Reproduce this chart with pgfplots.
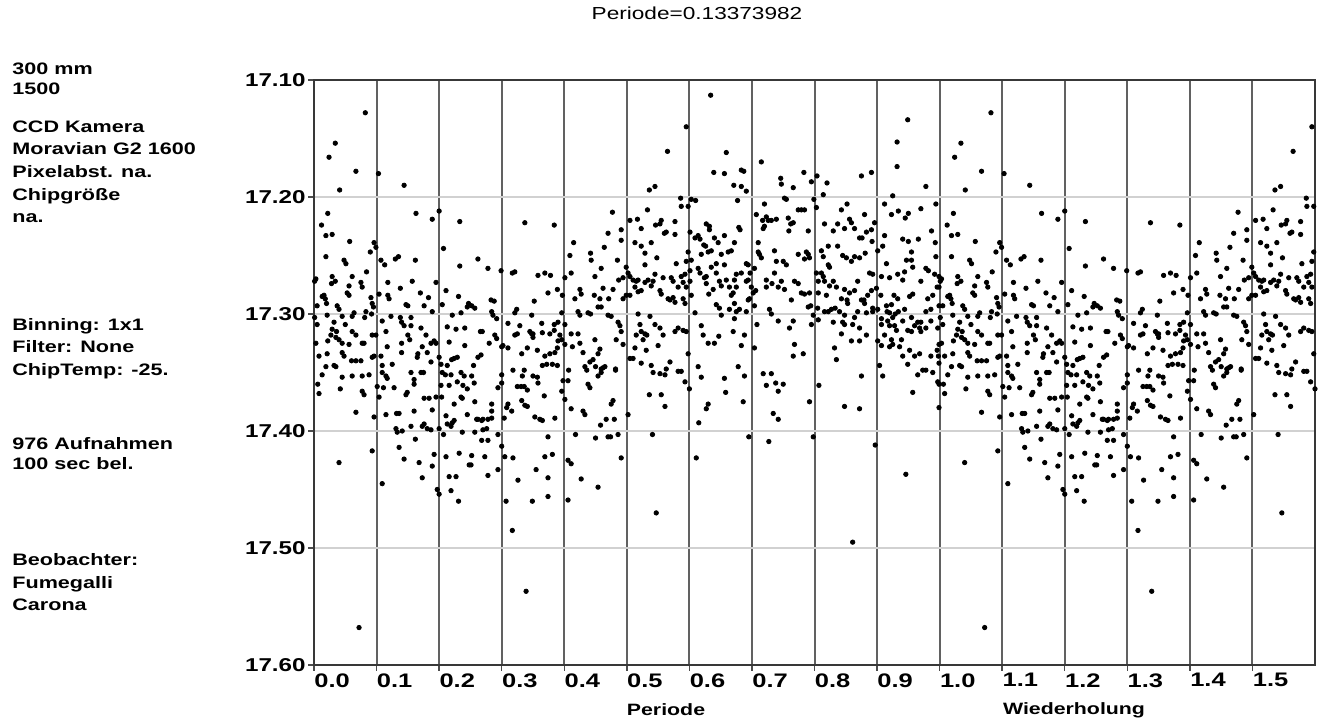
\documentclass[border=0pt]{standalone}
\usepackage{pgfplots}
\pgfplotsset{compat=1.18}
\usepackage{pgfplotstable}
\usepackage{fontspec}
\setmainfont{Liberation Sans}[FakeStretch=1.3]

\pgfplotstableread[row sep=\\]{
p m\\
0.082 17.128\\ 0.034 17.154\\ 0.024 17.166\\ 0.067 17.178\\ 0.103 17.180\\ 0.041 17.194\\ 0.144 17.190\\ 0.163 17.214\\
0.200 17.212\\ 0.022 17.214\\ 0.189 17.219\\ 0.233 17.221\\ 0.012 17.224\\ 0.019 17.233\\ 0.029 17.232\\ 0.057 17.238\\
0.096 17.239\\ 0.099 17.243\\ 0.090 17.247\\ 0.207 17.244\\ 0.019 17.251\\ 0.048 17.254\\ 0.051 17.257\\ 0.107 17.254\\
0.113 17.258\\ 0.130 17.253\\ 0.135 17.251\\ 0.162 17.254\\ 0.233 17.259\\ 0.084 17.264\\ 0.061 17.268\\ 0.029 17.268\\
0.034 17.272\\ 0.028 17.274\\ 0.003 17.270\\ 0.001 17.272\\ 0.075 17.273\\ 0.077 17.277\\ 0.118 17.273\\ 0.157 17.272\\
0.195 17.273\\ 0.056 17.276\\ 0.053 17.282\\ 0.056 17.284\\ 0.016 17.284\\ 0.013 17.285\\ 0.018 17.287\\ 0.091 17.286\\
0.104 17.283\\ 0.118 17.284\\ 0.120 17.287\\ 0.138 17.278\\ 0.170 17.282\\ 0.183 17.286\\ 0.211 17.280\\ 0.231 17.285\\
0.005 17.293\\ 0.020 17.291\\ 0.037 17.293\\ 0.040 17.296\\ 0.093 17.291\\ 0.095 17.294\\ 0.147 17.292\\ 0.150 17.293\\
0.176 17.293\\ 0.205 17.292\\ 0.247 17.291\\ 0.245 17.294\\ 0.064 17.299\\ 0.061 17.302\\ 0.083 17.298\\ 0.092 17.300\\
0.123 17.302\\ 0.138 17.303\\ 0.155 17.303\\ 0.189 17.298\\ 0.221 17.301\\ 0.235 17.299\\ 0.001 17.303\\ 0.021 17.301\\
0.005 17.309\\ 0.032 17.307\\ 0.045 17.302\\ 0.050 17.309\\ 0.081 17.303\\ 0.140 17.307\\ 0.109 17.306\\ 0.155 17.310\\
0.144 17.310\\ 0.171 17.312\\ 0.179 17.318\\ 0.213 17.311\\ 0.227 17.313\\ 0.241 17.312\\ 0.029 17.313\\ 0.036 17.315\\
0.027 17.318\\ 0.035 17.320\\ 0.061 17.315\\ 0.067 17.318\\ 0.022 17.323\\ 0.040 17.322\\ 0.045 17.325\\ 0.056 17.326\\
0.077 17.325\\ 0.080 17.325\\ 0.093 17.318\\ 0.099 17.318\\ 0.115 17.315\\ 0.117 17.328\\ 0.140 17.325\\ 0.140 17.333\\
0.150 17.318\\ 0.153 17.322\\ 0.173 17.328\\ 0.187 17.325\\ 0.192 17.323\\ 0.195 17.325\\ 0.216 17.324\\ 0.241 17.327\\
0.003 17.325\\ 0.008 17.336\\ 0.021 17.334\\ 0.045 17.333\\ 0.048 17.336\\ 0.060 17.340\\ 0.067 17.340\\ 0.075 17.340\\
0.093 17.337\\ 0.096 17.336\\ 0.107 17.336\\ 0.125 17.343\\ 0.166 17.334\\ 0.165 17.337\\ 0.181 17.333\\ 0.187 17.341\\
0.200 17.337\\ 0.203 17.343\\ 0.213 17.344\\ 0.220 17.339\\ 0.224 17.338\\ 0.229 17.337\\ 0.019 17.345\\ 0.032 17.344\\
0.035 17.345\\ 0.109 17.344\\ 0.109 17.350\\ 0.115 17.353\\ 0.117 17.355\\ 0.155 17.350\\ 0.160 17.356\\ 0.171 17.350\\
0.175 17.350\\ 0.205 17.350\\ 0.210 17.352\\ 0.219 17.352\\ 0.235 17.350\\ 0.240 17.353\\ 0.013 17.352\\ 0.045 17.354\\
0.061 17.353\\ 0.077 17.353\\ 0.088 17.352\\ 0.101 17.362\\ 0.111 17.363\\ 0.128 17.363\\ 0.147 17.369\\ 0.149 17.367\\
0.160 17.360\\ 0.203 17.361\\ 0.216 17.361\\ 0.229 17.358\\ 0.238 17.361\\ 0.245 17.364\\ 0.006 17.360\\ 0.008 17.368\\
0.042 17.364\\ 0.077 17.366\\ 0.080 17.369\\ 0.104 17.371\\ 0.176 17.372\\ 0.184 17.372\\ 0.195 17.371\\ 0.204 17.371\\
0.224 17.377\\ 0.235 17.371\\ 0.237 17.372\\ 0.067 17.384\\ 0.096 17.388\\ 0.115 17.386\\ 0.132 17.385\\ 0.136 17.385\\
0.160 17.383\\ 0.189 17.382\\ 0.211 17.387\\ 0.221 17.393\\ 0.224 17.391\\ 0.245 17.386\\ 0.131 17.398\\ 0.133 17.401\\
0.141 17.400\\ 0.155 17.396\\ 0.173 17.396\\ 0.176 17.394\\ 0.181 17.398\\ 0.187 17.399\\ 0.200 17.398\\ 0.207 17.403\\
0.213 17.394\\ 0.219 17.396\\ 0.237 17.401\\ 0.136 17.414\\ 0.162 17.407\\ 0.093 17.417\\ 0.040 17.427\\ 0.144 17.424\\
0.168 17.427\\ 0.192 17.420\\ 0.211 17.422\\ 0.189 17.430\\ 0.232 17.419\\ 0.248 17.429\\ 0.173 17.440\\ 0.216 17.439\\
0.227 17.439\\ 0.109 17.445\\ 0.197 17.450\\ 0.200 17.454\\ 0.219 17.451\\ 0.231 17.460\\ 0.072 17.568\\
0.337 17.222\\ 0.384 17.224\\ 0.477 17.213\\ 0.491 17.228\\ 0.491 17.237\\ 0.470 17.231\\ 0.464 17.243\\ 0.415 17.239\\
0.442 17.248\\ 0.443 17.254\\ 0.409 17.250\\ 0.411 17.265\\ 0.262 17.253\\ 0.278 17.261\\ 0.299 17.263\\ 0.317 17.265\\
0.321 17.264\\ 0.358 17.267\\ 0.369 17.265\\ 0.378 17.267\\ 0.374 17.282\\ 0.352 17.289\\ 0.401 17.269\\ 0.389 17.279\\
0.397 17.284\\ 0.425 17.279\\ 0.427 17.283\\ 0.417 17.287\\ 0.448 17.284\\ 0.457 17.287\\ 0.459 17.294\\ 0.454 17.294\\
0.470 17.301\\ 0.475 17.302\\ 0.462 17.278\\ 0.471 17.287\\ 0.478 17.279\\ 0.494 17.287\\ 0.487 17.271\\ 0.485 17.254\\
0.494 17.269\\ 0.459 17.261\\ 0.449 17.268\\ 0.252 17.293\\ 0.257 17.295\\ 0.283 17.288\\ 0.288 17.289\\ 0.284 17.298\\
0.286 17.301\\ 0.292 17.304\\ 0.324 17.296\\ 0.321 17.299\\ 0.348 17.301\\ 0.396 17.299\\ 0.422 17.298\\ 0.425 17.301\\
0.438 17.299\\ 0.442 17.300\\ 0.486 17.307\\ 0.489 17.310\\ 0.491 17.315\\ 0.483 17.322\\ 0.494 17.326\\ 0.449 17.322\\
0.457 17.330\\ 0.454 17.334\\ 0.446 17.339\\ 0.441 17.341\\ 0.450 17.345\\ 0.459 17.347\\ 0.462 17.346\\ 0.433 17.345\\
0.436 17.348\\ 0.482 17.348\\ 0.430 17.333\\ 0.413 17.328\\ 0.401 17.326\\ 0.396 17.322\\ 0.393 17.318\\ 0.389 17.329\\
0.385 17.333\\ 0.377 17.334\\ 0.369 17.336\\ 0.365 17.344\\ 0.357 17.331\\ 0.341 17.329\\ 0.332 17.334\\ 0.310 17.329\\
0.300 17.328\\ 0.302 17.327\\ 0.266 17.315\\ 0.269 17.315\\ 0.280 17.325\\ 0.289 17.318\\ 0.292 17.321\\ 0.310 17.308\\
0.329 17.310\\ 0.321 17.318\\ 0.325 17.317\\ 0.345 17.315\\ 0.348 17.317\\ 0.350 17.317\\ 0.350 17.320\\ 0.364 17.308\\
0.365 17.316\\ 0.377 17.317\\ 0.384 17.309\\ 0.384 17.314\\ 0.390 17.307\\ 0.401 17.309\\ 0.390 17.323\\ 0.411 17.317\\
0.422 17.317\\ 0.425 17.325\\ 0.255 17.344\\ 0.262 17.337\\ 0.267 17.335\\ 0.252 17.353\\ 0.256 17.359\\ 0.300 17.352\\
0.300 17.359\\ 0.294 17.363\\ 0.318 17.348\\ 0.336 17.348\\ 0.333 17.353\\ 0.331 17.362\\ 0.325 17.362\\ 0.336 17.362\\
0.341 17.365\\ 0.350 17.353\\ 0.357 17.354\\ 0.358 17.359\\ 0.368 17.370\\ 0.372 17.343\\ 0.381 17.343\\ 0.389 17.344\\
0.398 17.357\\ 0.396 17.366\\ 0.407 17.348\\ 0.406 17.357\\ 0.411 17.381\\ 0.401 17.373\\ 0.430 17.383\\ 0.433 17.386\\
0.438 17.360\\ 0.441 17.363\\ 0.454 17.353\\ 0.459 17.350\\ 0.465 17.345\\ 0.478 17.374\\ 0.475 17.377\\ 0.482 17.347\\
0.257 17.375\\ 0.284 17.377\\ 0.284 17.383\\ 0.284 17.389\\ 0.260 17.390\\ 0.262 17.390\\ 0.268 17.391\\ 0.270 17.390\\
0.278 17.390\\ 0.257 17.401\\ 0.270 17.399\\ 0.276 17.398\\ 0.308 17.380\\ 0.310 17.377\\ 0.304 17.389\\ 0.316 17.383\\
0.337 17.378\\ 0.341 17.379\\ 0.332 17.374\\ 0.353 17.388\\ 0.361 17.390\\ 0.365 17.391\\ 0.385 17.389\\ 0.418 17.403\\
0.450 17.406\\ 0.458 17.395\\ 0.467 17.390\\ 0.470 17.405\\ 0.474 17.405\\ 0.480 17.390\\ 0.486 17.403\\ 0.251 17.429\\
0.252 17.421\\ 0.273 17.422\\ 0.268 17.408\\ 0.278 17.408\\ 0.294 17.403\\ 0.300 17.413\\ 0.305 17.422\\ 0.318 17.423\\
0.294 17.433\\ 0.278 17.438\\ 0.326 17.442\\ 0.355 17.433\\ 0.369 17.422\\ 0.374 17.405\\ 0.381 17.420\\ 0.374 17.440\\
0.406 17.425\\ 0.411 17.428\\ 0.427 17.441\\ 0.454 17.448\\ 0.491 17.423\\ 0.307 17.460\\ 0.349 17.460\\ 0.374 17.456\\
0.406 17.459\\ 0.317 17.485\\ 0.339 17.537\\
0.634 17.113\\ 0.595 17.140\\ 0.565 17.161\\ 0.659 17.162\\ 0.715 17.170\\ 0.639 17.179\\ 0.656 17.180\\ 0.683 17.177\\
0.687 17.178\\ 0.671 17.190\\ 0.683 17.191\\ 0.691 17.195\\ 0.536 17.194\\ 0.545 17.191\\ 0.586 17.201\\ 0.587 17.208\\
0.598 17.208\\ 0.603 17.202\\ 0.610 17.203\\ 0.677 17.203\\ 0.707 17.215\\ 0.720 17.206\\ 0.723 17.217\\ 0.717 17.220\\
0.726 17.220\\ 0.731 17.220\\ 0.739 17.219\\ 0.533 17.211\\ 0.505 17.220\\ 0.517 17.219\\ 0.555 17.220\\ 0.553 17.223\\
0.546 17.224\\ 0.577 17.221\\ 0.523 17.227\\ 0.560 17.231\\ 0.563 17.230\\ 0.577 17.232\\ 0.601 17.230\\ 0.609 17.235\\
0.614 17.233\\ 0.617 17.236\\ 0.627 17.223\\ 0.632 17.225\\ 0.632 17.228\\ 0.640 17.235\\ 0.623 17.241\\ 0.626 17.242\\
0.635 17.246\\ 0.646 17.239\\ 0.656 17.233\\ 0.672 17.239\\ 0.679 17.226\\ 0.681 17.228\\ 0.710 17.239\\ 0.718 17.227\\
0.720 17.225\\ 0.736 17.246\\ 0.513 17.239\\ 0.523 17.242\\ 0.529 17.248\\ 0.539 17.239\\ 0.548 17.252\\ 0.529 17.258\\
0.579 17.257\\ 0.595 17.255\\ 0.598 17.247\\ 0.603 17.254\\ 0.614 17.261\\ 0.619 17.249\\ 0.630 17.247\\ 0.627 17.268\\
0.635 17.260\\ 0.643 17.257\\ 0.643 17.265\\ 0.651 17.249\\ 0.656 17.258\\ 0.662 17.247\\ 0.667 17.246\\ 0.672 17.271\\
0.675 17.266\\ 0.691 17.257\\ 0.694 17.258\\ 0.697 17.265\\ 0.704 17.261\\ 0.710 17.247\\ 0.712 17.249\\ 0.715 17.252\\
0.723 17.271\\ 0.739 17.255\\ 0.736 17.265\\ 0.499 17.260\\ 0.502 17.265\\ 0.505 17.268\\ 0.510 17.271\\ 0.515 17.272\\
0.518 17.271\\ 0.529 17.273\\ 0.534 17.271\\ 0.542 17.272\\ 0.545 17.266\\ 0.558 17.269\\ 0.571 17.269\\ 0.574 17.272\\
0.587 17.268\\ 0.590 17.273\\ 0.593 17.266\\ 0.582 17.277\\ 0.595 17.277\\ 0.601 17.263\\ 0.601 17.272\\ 0.603 17.284\\
0.617 17.265\\ 0.624 17.269\\ 0.627 17.274\\ 0.631 17.283\\ 0.638 17.279\\ 0.648 17.272\\ 0.651 17.276\\ 0.659 17.271\\
0.664 17.277\\ 0.667 17.284\\ 0.670 17.282\\ 0.675 17.277\\ 0.683 17.265\\ 0.691 17.272\\ 0.694 17.271\\ 0.699 17.277\\
0.702 17.282\\ 0.706 17.280\\ 0.723 17.277\\ 0.732 17.274\\ 0.742 17.277\\ 0.499 17.284\\ 0.505 17.284\\ 0.513 17.277\\
0.518 17.281\\ 0.523 17.280\\ 0.539 17.276\\ 0.553 17.280\\ 0.555 17.283\\ 0.566 17.287\\ 0.569 17.288\\ 0.574 17.286\\
0.577 17.290\\ 0.593 17.291\\ 0.590 17.287\\ 0.609 17.299\\ 0.643 17.292\\ 0.648 17.295\\ 0.651 17.301\\ 0.664 17.296\\
0.672 17.291\\ 0.675 17.298\\ 0.672 17.304\\ 0.680 17.296\\ 0.691 17.298\\ 0.694 17.288\\ 0.696 17.287\\ 0.704 17.293\\
0.728 17.296\\ 0.731 17.300\\ 0.670 17.315\\ 0.518 17.300\\ 0.521 17.309\\ 0.523 17.315\\ 0.515 17.318\\ 0.529 17.317\\
0.526 17.322\\ 0.532 17.318\\ 0.537 17.302\\ 0.545 17.309\\ 0.553 17.312\\ 0.558 17.318\\ 0.550 17.327\\ 0.577 17.315\\
0.582 17.312\\ 0.590 17.314\\ 0.595 17.315\\ 0.619 17.310\\ 0.622 17.318\\ 0.630 17.325\\ 0.640 17.325\\ 0.647 17.319\\
0.688 17.318\\ 0.683 17.327\\ 0.708 17.309\\ 0.704 17.329\\ 0.505 17.338\\ 0.510 17.338\\ 0.513 17.329\\ 0.523 17.342\\
0.531 17.331\\ 0.539 17.344\\ 0.542 17.350\\ 0.553 17.351\\ 0.561 17.352\\ 0.563 17.347\\ 0.569 17.341\\ 0.582 17.349\\
0.587 17.349\\ 0.593 17.358\\ 0.598 17.334\\ 0.600 17.364\\ 0.614 17.345\\ 0.619 17.354\\ 0.656 17.355\\ 0.658 17.367\\
0.678 17.345\\ 0.688 17.353\\ 0.686 17.375\\ 0.718 17.351\\ 0.731 17.351\\ 0.723 17.361\\ 0.738 17.359\\ 0.742 17.366\\
0.502 17.386\\ 0.536 17.369\\ 0.555 17.369\\ 0.561 17.379\\ 0.630 17.377\\ 0.627 17.381\\ 0.615 17.393\\ 0.541 17.403\\
0.611 17.423\\ 0.695 17.405\\ 0.727 17.409\\ 0.734 17.385\\ 0.742 17.390\\ 0.547 17.470\\
0.949 17.134\\ 0.932 17.153\\ 0.932 17.174\\ 0.875 17.182\\ 0.891 17.179\\ 0.978 17.191\\ 0.783 17.179\\ 0.795 17.187\\
0.804 17.182\\ 0.820 17.188\\ 0.746 17.184\\ 0.747 17.189\\ 0.766 17.192\\ 0.814 17.198\\ 0.799 17.202\\ 0.752 17.201\\
0.755 17.202\\ 0.925 17.199\\ 0.994 17.206\\ 0.912 17.206\\ 0.934 17.212\\ 0.923 17.215\\ 0.945 17.218\\ 0.950 17.214\\
0.970 17.210\\ 0.843 17.211\\ 0.852 17.206\\ 0.880 17.215\\ 0.774 17.211\\ 0.779 17.211\\ 0.784 17.211\\ 0.758 17.218\\
0.803 17.209\\ 0.816 17.223\\ 0.837 17.223\\ 0.762 17.223\\ 0.766 17.222\\ 0.759 17.229\\ 0.790 17.229\\ 0.856 17.219\\
0.859 17.222\\ 0.848 17.227\\ 0.864 17.227\\ 0.872 17.235\\ 0.876 17.235\\ 0.883 17.230\\ 0.891 17.228\\ 0.896 17.222\\
0.892 17.238\\ 0.912 17.233\\ 0.941 17.236\\ 0.950 17.238\\ 0.966 17.236\\ 0.987 17.229\\ 0.993 17.239\\ 0.822 17.242\\
0.830 17.229\\ 0.750 17.255\\ 0.755 17.258\\ 0.774 17.249\\ 0.787 17.247\\ 0.790 17.249\\ 0.792 17.252\\ 0.784 17.253\\
0.811 17.246\\ 0.814 17.251\\ 0.822 17.258\\ 0.824 17.260\\ 0.803 17.265\\ 0.811 17.265\\ 0.837 17.242\\ 0.845 17.250\\
0.851 17.252\\ 0.859 17.255\\ 0.864 17.251\\ 0.872 17.252\\ 0.881 17.248\\ 0.888 17.265\\ 0.893 17.266\\ 0.907 17.268\\
0.901 17.246\\ 0.909 17.242\\ 0.915 17.257\\ 0.920 17.269\\ 0.947 17.254\\ 0.955 17.247\\ 0.955 17.254\\ 0.957 17.260\\
0.970 17.272\\ 0.978 17.261\\ 0.982 17.263\\ 0.994 17.251\\ 0.992 17.266\\ 0.999 17.268\\ 0.933 17.266\\ 0.944 17.264\\
0.747 17.272\\ 0.752 17.279\\ 0.768 17.272\\ 0.774 17.274\\ 0.763 17.288\\ 0.779 17.282\\ 0.784 17.283\\ 0.792 17.282\\
0.790 17.294\\ 0.806 17.272\\ 0.806 17.282\\ 0.816 17.272\\ 0.814 17.268\\ 0.819 17.284\\ 0.824 17.276\\ 0.830 17.272\\
0.835 17.277\\ 0.843 17.287\\ 0.848 17.279\\ 0.852 17.288\\ 0.856 17.282\\ 0.864 17.280\\ 0.869 17.272\\ 0.875 17.288\\
0.879 17.288\\ 0.885 17.284\\ 0.891 17.280\\ 0.899 17.278\\ 0.906 17.284\\ 0.915 17.293\\ 0.927 17.284\\ 0.933 17.287\\
0.941 17.271\\ 0.952 17.285\\ 0.957 17.283\\ 0.981 17.287\\ 0.996 17.277\\ 0.999 17.277\\ 0.989 17.284\\ 0.794 17.293\\
0.798 17.301\\ 0.805 17.295\\ 0.806 17.305\\ 0.816 17.298\\ 0.822 17.298\\ 0.827 17.296\\ 0.833 17.295\\ 0.840 17.298\\
0.848 17.301\\ 0.853 17.291\\ 0.864 17.303\\ 0.869 17.298\\ 0.883 17.299\\ 0.880 17.291\\ 0.893 17.298\\ 0.901 17.296\\
0.907 17.304\\ 0.916 17.298\\ 0.920 17.299\\ 0.923 17.292\\ 0.925 17.303\\ 0.929 17.300\\ 0.934 17.298\\ 0.944 17.296\\
0.955 17.303\\ 0.960 17.310\\ 0.965 17.307\\ 0.970 17.307\\ 0.978 17.298\\ 0.986 17.296\\ 0.999 17.293\\ 0.742 17.306\\
0.766 17.306\\ 0.760 17.312\\ 0.795 17.309\\ 0.830 17.307\\ 0.845 17.307\\ 0.848 17.309\\ 0.861 17.309\\ 0.872 17.312\\
0.883 17.318\\ 0.893 17.295\\ 0.907 17.309\\ 0.917 17.306\\ 0.920 17.310\\ 0.928 17.310\\ 0.931 17.314\\ 0.941 17.306\\
0.949 17.314\\ 0.955 17.315\\ 0.968 17.312\\ 0.970 17.315\\ 0.978 17.312\\ 0.986 17.306\\ 0.997 17.312\\ 0.999 17.326\\
0.843 17.317\\ 0.859 17.323\\ 0.872 17.323\\ 0.912 17.318\\ 0.923 17.322\\ 0.939 17.322\\ 0.901 17.323\\ 0.907 17.327\\
0.920 17.328\\ 0.925 17.326\\ 0.936 17.328\\ 0.941 17.336\\ 0.952 17.331\\ 0.960 17.336\\ 0.968 17.334\\ 0.986 17.336\\
0.996 17.331\\ 0.998 17.336\\ 0.768 17.326\\ 0.766 17.336\\ 0.782 17.334\\ 0.832 17.329\\ 0.835 17.339\\ 0.904 17.344\\
0.909 17.353\\ 0.875 17.353\\ 0.949 17.343\\ 0.965 17.352\\ 0.973 17.348\\ 0.978 17.348\\ 0.989 17.350\\ 0.999 17.342\\
0.997 17.358\\ 0.957 17.367\\ 0.999 17.360\\ 0.999 17.380\\ 0.750 17.360\\ 0.792 17.375\\ 0.807 17.361\\ 0.848 17.379\\
0.872 17.381\\ 0.897 17.412\\ 0.798 17.405\\ 0.946 17.437\\ 0.861 17.495\\
}\phot

\begin{document}
\begin{tikzpicture}
\path[use as bounding box] (0,0) rectangle (661pt,360.5pt);
\begin{axis}[
  at={(407.25pt,174.25pt)}, anchor=center,
  width=500.5pt, height=292.5pt, scale only axis,
  xmin=0, xmax=1.6, ymin=17.1, ymax=17.6, y dir=reverse,
  xtick={0,0.1,0.2,0.3,0.4,0.5,0.6,0.7,0.8,0.9,1.0,1.1,1.2,1.3,1.4,1.5},
  xticklabels={0.0,0.1,0.2,0.3,0.4,0.5,0.6,0.7,0.8,0.9,1.0,1.1,1.2,1.3,1.4,1.5},
  ytick={17.1,17.2,17.3,17.4,17.5,17.6},
  yticklabels={17.10,17.20,17.30,17.40,17.50,17.60},
  /pgf/number format/assume math mode=true,
  tick pos=left, tick align=outside, major tick length=3pt,
  xmajorgrids, ymajorgrids,
  x grid style={line width=1pt, color=black!62},
  y grid style={line width=0.7pt, color=black!18},
  axis line style={line width=1pt, color=black!78},
  tick style={line width=0.7pt, color=black!70},
  xticklabel style={anchor=north west, inner sep=0pt, yshift=-1pt, font=\bfseries\fontsize{9.8}{11}\selectfont},
  yticklabel style={anchor=east, inner sep=0pt, xshift=-1pt, font=\bfseries\fontsize{9.3}{11}\selectfont},
  clip=true,
]
\addplot[only marks, mark=*, mark size=1.1pt, black] table[x=p, y=m]{\phot};
\addplot[only marks, mark=*, mark size=1.1pt, black, restrict x to domain=1:1.61] table[x expr=\thisrow{p}+1, y=m]{\phot};
\end{axis}
\node[font=\fontsize{8.7}{10}\selectfont] at (348.5pt,354pt) {Periode=0.13373982};
\node[font=\bfseries\fontsize{8.2}{10}\selectfont] at (333pt,5.5pt) {Periode};
\node[font=\bfseries\fontsize{8.2}{10}\selectfont] at (537pt,5.5pt) {Wiederholung};
\begin{scope}[every node/.style={anchor=base west, inner sep=0pt, font=\bfseries\fontsize{8.3}{10}\selectfont}]
\node at (6pt,323pt) {300 mm};
\node at (6pt,313pt) {1500};
\node at (6pt,294pt) {CCD Kamera};
\node at (6pt,283pt) {Moravian G2 1600};
\node at (6pt,271.5pt) {Pixelabst. na.};
\node at (6pt,260pt) {Chipgröße};
\node at (6pt,249pt) {na.};
\node at (6pt,195pt) {Binning: 1x1};
\node at (6pt,184pt) {Filter: None};
\node at (6pt,172.5pt) {ChipTemp: -25.};
\node at (6pt,135.5pt) {976 Aufnahmen};
\node at (6pt,125.5pt) {100 sec bel.};
\node at (6pt,77.5pt) {Beobachter:};
\node at (6pt,66pt) {Fumegalli};
\node at (6pt,55pt) {Carona};
\end{scope}
\end{tikzpicture}
\end{document}
